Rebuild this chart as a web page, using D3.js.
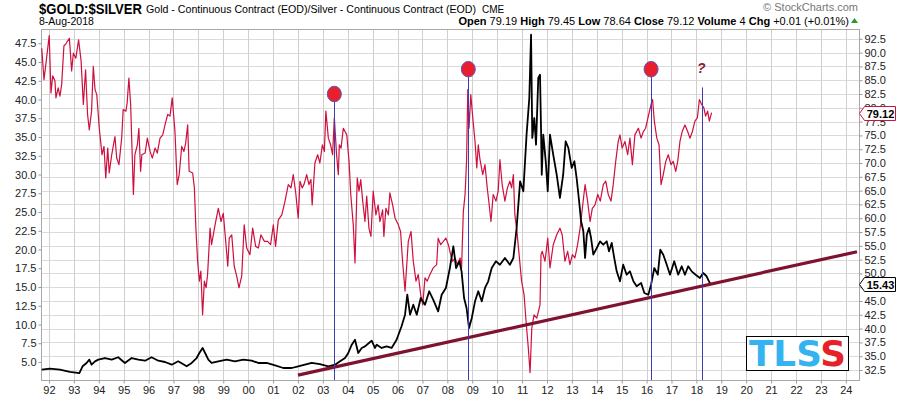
<!DOCTYPE html>
<html>
<head>
<meta charset="utf-8">
<script src="https://cdn.jsdelivr.net/npm/d3@7"></script>
<style>
body { margin: 0; background: #fff; }
text { font-family: Arial, "Liberation Sans", sans-serif; }
</style>
</head>
<body>
<svg id="chart" width="900" height="399"></svg>
<script>
// gold:silver ratio (red, right axis) as [decimal year, value]
var ratioData = [
  [1991.71,90.8],[1991.80,85.1],[1991.88,88.1],[1992.01,93.1],[1992.08,82.7],[1992.15,85.8],[1992.24,84.9],
  [1992.28,81.8],[1992.37,83.6],[1992.44,82.1],[1992.51,84.2],[1992.60,91.2],[1992.68,91.6],[1992.82,92.6],
  [1992.91,86.7],[1992.98,89.9],[1993.08,89.0],[1993.19,92.3],[1993.29,88.5],[1993.38,80.6],[1993.47,86.9],
  [1993.55,78.8],[1993.62,76.0],[1993.71,79.4],[1993.78,87.5],[1993.85,83.3],[1993.92,82.4],[1994.02,76.3],
  [1994.13,71.5],[1994.21,73.0],[1994.28,67.3],[1994.36,72.7],[1994.42,68.2],[1994.52,71.5],[1994.65,74.8],
  [1994.72,70.9],[1994.81,69.7],[1994.92,74.5],[1994.98,79.7],[1995.09,79.4],[1995.14,80.9],[1995.21,85.4],
  [1995.28,80.6],[1995.33,73.3],[1995.39,64.3],[1995.45,71.5],[1995.55,73.3],[1995.61,76.3],[1995.68,68.5],
  [1995.73,71.5],[1995.86,71.8],[1995.95,74.5],[1996.06,72.1],[1996.15,70.9],[1996.26,72.7],[1996.35,71.8],
  [1996.46,74.5],[1996.57,75.1],[1996.66,76.9],[1996.77,78.8],[1996.86,78.5],[1996.95,81.8],[1997.06,75.7],
  [1997.15,66.1],[1997.23,67.9],[1997.33,73.0],[1997.42,72.1],[1997.49,73.6],[1997.57,76.9],[1997.63,68.5],
  [1997.77,68.2],[1997.84,65.5],[1997.90,58.2],[1997.97,52.2],[1998.04,48.6],[1998.10,50.4],[1998.17,42.5],
  [1998.24,48.6],[1998.31,47.4],[1998.37,49.8],[1998.47,58.2],[1998.53,55.2],[1998.67,58.8],[1998.80,61.8],
  [1998.91,59.4],[1999.00,60.9],[1999.11,55.2],[1999.18,51.3],[1999.24,56.4],[1999.34,57.0],[1999.44,51.3],
  [1999.54,49.5],[1999.63,47.4],[1999.74,49.5],[1999.84,58.8],[1999.94,54.6],[2000.07,53.4],[2000.18,58.2],
  [2000.30,54.9],[2000.41,54.6],[2000.51,57.0],[2000.65,55.8],[2000.78,55.8],[2000.90,55.2],[2001.01,58.8],
  [2001.10,54.9],[2001.21,59.7],[2001.35,60.6],[2001.48,63.1],[2001.61,66.1],[2001.72,65.5],[2001.81,67.9],
  [2001.91,64.6],[2002.01,60.0],[2002.08,66.7],[2002.17,65.5],[2002.24,66.1],[2002.35,67.9],[2002.44,66.1],
  [2002.52,67.0],[2002.57,62.4],[2002.68,70.0],[2002.79,71.5],[2002.88,70.0],[2002.98,73.3],[2003.06,72.1],
  [2003.12,79.4],[2003.22,74.5],[2003.31,73.3],[2003.39,71.5],[2003.46,78.2],[2003.55,71.5],[2003.62,67.9],
  [2003.66,73.3],[2003.73,72.7],[2003.82,76.3],[2003.96,75.1],[2004.05,70.3],[2004.12,64.3],[2004.22,58.8],
  [2004.29,51.9],[2004.38,67.3],[2004.45,64.9],[2004.52,67.0],[2004.60,63.1],[2004.69,59.4],[2004.76,64.0],
  [2004.85,58.2],[2004.93,56.7],[2005.02,64.9],[2005.13,60.6],[2005.22,62.4],[2005.29,59.4],[2005.40,61.5],
  [2005.45,56.7],[2005.53,61.8],[2005.63,60.6],[2005.69,64.6],[2005.80,62.4],[2005.90,60.0],[2006.03,58.8],
  [2006.12,57.6],[2006.20,52.2],[2006.30,46.8],[2006.43,55.8],[2006.54,57.6],[2006.63,52.2],[2006.74,48.6],
  [2006.83,49.8],[2006.93,46.1],[2007.01,44.3],[2007.10,49.2],[2007.19,48.6],[2007.30,49.8],[2007.43,51.0],
  [2007.57,51.6],[2007.63,56.4],[2007.73,55.2],[2007.84,55.8],[2007.94,56.4],[2008.04,55.2],[2008.13,53.4],
  [2008.21,52.2],[2008.31,52.8],[2008.40,51.6],[2008.51,52.8],[2008.57,51.0],[2008.64,61.2],[2008.71,64.3],
  [2008.77,70.3],[2008.82,83.3],[2008.87,76.3],[2008.94,82.4],[2009.02,78.2],[2009.11,73.9],[2009.18,69.1],
  [2009.24,73.3],[2009.31,70.6],[2009.42,67.9],[2009.51,69.7],[2009.60,65.5],[2009.68,62.4],[2009.75,59.4],
  [2009.84,64.3],[2009.95,63.1],[2010.04,64.9],[2010.11,70.6],[2010.20,66.1],[2010.31,63.1],[2010.41,65.5],
  [2010.51,66.7],[2010.58,65.5],[2010.65,67.9],[2010.71,60.6],[2010.78,58.2],[2010.88,53.4],[2010.98,48.6],
  [2011.08,46.1],[2011.16,41.3],[2011.25,36.5],[2011.32,32.0],[2011.39,40.1],[2011.48,42.5],[2011.59,41.9],
  [2011.72,44.3],[2011.76,53.4],[2011.81,54.0],[2011.92,52.2],[2012.03,56.4],[2012.12,51.0],[2012.25,55.2],
  [2012.39,57.0],[2012.52,58.2],[2012.61,57.0],[2012.72,52.2],[2012.83,54.0],[2012.92,51.6],[2013.02,53.4],
  [2013.12,52.8],[2013.23,55.2],[2013.33,58.2],[2013.42,61.8],[2013.53,66.1],[2013.63,63.1],[2013.73,59.4],
  [2013.82,61.8],[2013.93,62.4],[2014.04,64.3],[2014.14,63.1],[2014.26,66.1],[2014.36,66.7],[2014.46,64.3],
  [2014.57,63.1],[2014.66,66.1],[2014.76,70.3],[2014.86,73.9],[2014.93,75.1],[2015.02,72.7],[2015.13,73.9],
  [2015.24,71.5],[2015.33,74.5],[2015.43,69.7],[2015.53,75.1],[2015.67,76.3],[2015.78,74.5],[2015.87,75.7],
  [2015.96,76.3],[2016.07,78.5],[2016.18,80.6],[2016.24,81.5],[2016.31,77.6],[2016.41,74.5],[2016.50,73.3],
  [2016.58,66.1],[2016.67,67.9],[2016.77,70.3],[2016.87,71.5],[2016.98,69.7],[2017.07,70.3],[2017.17,68.5],
  [2017.25,70.3],[2017.34,73.9],[2017.43,75.7],[2017.54,76.9],[2017.65,75.7],[2017.74,74.5],[2017.84,75.7],
  [2017.94,77.6],[2018.04,78.2],[2018.12,81.5],[2018.21,80.6],[2018.30,80.0],[2018.37,78.5],[2018.45,79.4],
  [2018.52,77.6],[2018.61,79.12]
];

// overlay (black, left axis)
var overlayData = [
  [1991.71,3.97],[1992.04,4.11],[1992.44,3.97],[1992.84,3.67],[1993.22,3.53],[1993.35,4.43],[1993.51,4.87],
  [1993.62,5.31],[1993.71,4.64],[1993.85,5.09],[1993.98,5.31],[1994.25,5.53],[1994.52,5.31],[1994.78,5.63],
  [1995.05,4.87],[1995.32,5.53],[1995.59,5.31],[1995.86,5.17],[1996.12,5.63],[1996.39,5.17],[1996.66,5.0],
  [1996.93,4.64],[1997.19,5.09],[1997.53,4.43],[1997.73,4.87],[1997.93,5.53],[1998.04,6.2],[1998.17,6.87],
  [1998.27,6.2],[1998.40,5.31],[1998.53,4.87],[1998.80,5.09],[1999.14,5.31],[1999.47,5.09],[1999.80,5.31],
  [2000.14,5.17],[2000.41,4.87],[2000.74,4.87],[2001.08,4.56],[2001.41,4.2],[2001.75,4.2],[2002.01,4.43],
  [2002.28,4.64],[2002.55,4.87],[2002.88,4.73],[2003.22,4.43],[2003.49,4.64],[2003.69,5.09],[2003.89,5.53],
  [2004.02,6.2],[2004.16,7.31],[2004.29,7.97],[2004.42,6.2],[2004.56,6.87],[2004.69,7.09],[2004.85,7.53],
  [2004.96,7.84],[2005.09,6.87],[2005.16,7.31],[2005.36,6.87],[2005.56,7.09],[2005.76,6.87],[2005.96,7.97],
  [2006.16,9.76],[2006.30,11.31],[2006.39,13.97],[2006.50,11.31],[2006.63,12.64],[2006.77,11.31],[2006.93,13.53],
  [2007.10,12.64],[2007.27,14.43],[2007.43,13.31],[2007.63,11.76],[2007.77,13.97],[2007.94,14.87],[2008.10,17.53],
  [2008.24,20.43],[2008.35,17.53],[2008.48,18.43],[2008.57,17.09],[2008.67,13.53],[2008.77,12.2],[2008.87,9.53],
  [2008.98,10.87],[2009.11,13.09],[2009.24,14.43],[2009.38,13.09],[2009.51,14.87],[2009.64,15.76],[2009.78,17.53],
  [2009.95,18.43],[2010.11,17.97],[2010.31,18.87],[2010.51,17.97],[2010.65,18.87],[2010.78,22.87],[2010.92,29.09],
  [2011.05,27.76],[2011.18,35.31],[2011.29,40.2],[2011.36,48.64],[2011.41,34.87],[2011.49,37.53],[2011.56,33.97],
  [2011.65,42.87],[2011.72,43.31],[2011.76,36.2],[2011.79,29.97],[2011.85,35.31],[2011.95,31.76],[2012.03,27.76],
  [2012.12,35.31],[2012.25,32.64],[2012.39,29.97],[2012.52,26.87],[2012.65,29.97],[2012.75,34.43],[2012.86,33.53],
  [2012.99,30.87],[2013.10,31.76],[2013.19,29.53],[2013.29,26.43],[2013.37,23.76],[2013.46,22.43],[2013.53,18.87],
  [2013.60,21.97],[2013.69,22.87],[2013.77,21.53],[2013.86,19.31],[2014.00,20.2],[2014.13,21.09],[2014.26,20.64],
  [2014.40,21.09],[2014.49,19.76],[2014.60,20.87],[2014.70,18.87],[2014.80,17.09],[2014.93,15.76],[2015.06,17.97],
  [2015.20,16.64],[2015.33,17.09],[2015.47,15.76],[2015.60,15.09],[2015.78,15.53],[2015.91,14.2],[2016.07,13.97],
  [2016.18,15.31],[2016.31,17.53],[2016.45,16.64],[2016.55,19.97],[2016.67,19.31],[2016.81,17.97],[2016.94,16.64],
  [2017.11,18.43],[2017.27,16.64],[2017.41,17.76],[2017.54,16.64],[2017.67,17.76],[2017.81,17.09],[2017.97,16.64],
  [2018.14,16.2],[2018.27,16.87],[2018.41,16.43],[2018.54,15.53],[2018.61,15.43]
];

var trendLine = [[2002.0, 3.25], [2024.45, 19.7]];          // left axis units
var markerYears = [2003.46, 2008.84, 2016.18, 2018.22];
var markerTops = [82.5, 87.0, 87.0, 83.7];                  // right axis units
var circleMarks = [[2003.46, 82.5], [2008.84, 87.0], [2016.18, 87.0]];
var questionMark = [2018.2, 87.2];

var yearTicks = d3.range(1992, 2025);
var leftTicks = d3.range(5, 47.6, 2.5);
var rightTicks = d3.range(32.5, 92.6, 2.5);
var lastRatio = 79.12, lastOverlay = 15.43;

function drawChart() {
    var svg = d3.select("#chart");
    var pLeft = 41, pRight = 859, pTop = 29, pBottom = 380;

    var x = d3.scaleLinear().domain([1991.68, 2024.53]).range([pLeft, pRight]);
    var yL = d3.scaleLinear().domain([2.6, 49.4]).range([pBottom, pTop]);
    var yR = d3.scaleLinear().domain([30.69, 94.28]).range([pBottom, pTop]);

    // grid
    svg.append("g").selectAll("line")
        .data(rightTicks).enter().append("line")
        .attr("x1", pLeft).attr("x2", pRight)
        .attr("y1", function(d) { return Math.round(yR(d)) + 0.5; })
        .attr("y2", function(d) { return Math.round(yR(d)) + 0.5; })
        .attr("stroke", "#dadada");
    svg.append("g").selectAll("line")
        .data(yearTicks).enter().append("line")
        .attr("y1", pTop).attr("y2", pBottom)
        .attr("x1", function(d) { return Math.round(x(d)) + 0.5; })
        .attr("x2", function(d) { return Math.round(x(d)) + 0.5; })
        .attr("stroke", "#cfcfcf");

    svg.append("rect")
        .attr("x", pLeft + 0.5).attr("y", pTop + 0.5)
        .attr("width", pRight - pLeft).attr("height", pBottom - pTop)
        .attr("fill", "none").attr("stroke", "#a8a8a8");

    // axes
    var fmt = d3.format(".1f");
    var gL = svg.append("g").attr("transform", "translate(" + (pLeft + 0.5) + ",0)")
        .call(d3.axisLeft(yL).tickValues(leftTicks).tickFormat(fmt).tickSize(3).tickPadding(2));
    var gR = svg.append("g").attr("transform", "translate(" + (pRight + 0.5) + ",0)")
        .call(d3.axisRight(yR).tickValues(rightTicks).tickFormat(fmt).tickSize(3).tickPadding(2));
    var gB = svg.append("g").attr("transform", "translate(0," + (pBottom + 0.5) + ")")
        .call(d3.axisBottom(x).tickValues(yearTicks)
            .tickFormat(function(d) { return d3.format("02d")(d % 100); })
            .tickSize(3).tickPadding(3));
    [gL, gR, gB].forEach(function(g) {
        g.select(".domain").remove();
        g.selectAll("line").attr("stroke", "#999");
        g.selectAll("text").attr("fill", "#222").style("font-size", "11px")
            .style("font-family", "Arial, 'Liberation Sans', sans-serif");
    });

    // lines
    var lineL = d3.line().x(function(d) { return x(d[0]); }).y(function(d) { return yL(d[1]); });
    var lineR = d3.line().x(function(d) { return x(d[0]); }).y(function(d) { return yR(d[1]); });

    svg.append("path").datum(ratioData)
        .attr("d", lineR).attr("fill", "none")
        .attr("stroke", "#cf0f3e").attr("stroke-width", 1.2).attr("stroke-linejoin", "round");

    svg.append("path").datum(overlayData)
        .attr("d", lineL).attr("fill", "none")
        .attr("stroke", "#000").attr("stroke-width", 1.8).attr("stroke-linejoin", "round");

    svg.append("path").datum(trendLine)
        .attr("d", lineL).attr("fill", "none")
        .attr("stroke", "#7e1230").attr("stroke-width", 3.2);

    // marker lines, circles, question mark
    svg.append("g").selectAll("line")
        .data(markerYears).enter().append("line")
        .attr("x1", function(d) { return Math.round(x(d)) + 0.5; })
        .attr("x2", function(d) { return Math.round(x(d)) + 0.5; })
        .attr("y1", function(d, i) { return yR(markerTops[i]); })
        .attr("y2", pBottom)
        .attr("stroke", "#3b3fae").attr("stroke-width", 1);

    svg.append("g").selectAll("ellipse")
        .data(circleMarks).enter().append("ellipse")
        .attr("cx", function(d) { return x(d[0]); })
        .attr("cy", function(d) { return yR(d[1]); })
        .attr("rx", 7).attr("ry", 7.8)
        .attr("fill", "#ea1f2d").attr("stroke", "#5a5ab8").attr("stroke-width", 1);

    svg.append("text")
        .attr("x", x(questionMark[0])).attr("y", yR(questionMark[1]) + 5)
        .attr("text-anchor", "middle")
        .attr("fill", "#8a1a3c").style("font-size", "14px").style("font-style", "italic").style("font-weight", "bold")
        .text("?");

    // value tags on right axis
    function tag(value, scale, color) {
        var yy = Math.round(scale(value)) + 0.5, x0 = pRight + 0.5;
        var g = svg.append("g");
        g.append("path")
            .attr("d", "M" + x0 + "," + yy + "L" + (x0 + 5) + "," + (yy - 7) + "H" + (x0 + 36) + "V" + (yy + 7) + "H" + (x0 + 5) + "Z")
            .attr("fill", "#fff").attr("stroke", color).attr("stroke-width", 1);
        g.append("text").attr("x", x0 + 21).attr("y", yy + 4)
            .attr("text-anchor", "middle").attr("fill", "#000")
            .style("font-size", "11px").style("font-weight", "bold")
            .text(d3.format(".2f")(value));
    }
    tag(lastRatio, yR, "#cf0f3e");
    tag(lastOverlay, yL, "#000");

    // TLSS box
    var logo = svg.append("g");
    logo.append("rect").attr("x", 746.5).attr("y", 336.5).attr("width", 102).attr("height", 34)
        .attr("fill", "#fff").attr("stroke", "#000");
    var logoText = logo.append("text").attr("x", 749).attr("y", 366)
        .attr("textLength", 97).attr("lengthAdjust", "spacingAndGlyphs")
        .style("font-size", "35px").style("font-weight", "bold")
        .style("font-family", "'DejaVu Sans', Arial, sans-serif");
    logoText.append("tspan").attr("fill", "#34b3f0").text("TLS");
    logoText.append("tspan").attr("fill", "#e52228").text("S");

    // header
    svg.append("text").attr("x", 39).attr("y", 14)
        .attr("textLength", 103).attr("lengthAdjust", "spacingAndGlyphs")
        .style("font-size", "14px").style("font-weight", "bold").attr("fill", "#000")
        .text("$GOLD:$SILVER");
    svg.append("text").attr("x", 146).attr("y", 13)
        .attr("textLength", 330).attr("lengthAdjust", "spacingAndGlyphs")
        .style("font-size", "11px").attr("fill", "#000")
        .text("Gold - Continuous Contract (EOD)/Silver - Continuous Contract (EOD)");
    svg.append("text").attr("x", 482).attr("y", 13)
        .style("font-size", "10px").attr("fill", "#000")
        .text("CME");
    svg.append("text").attr("x", 39).attr("y", 25)
        .style("font-size", "10.5px").attr("fill", "#000")
        .text("8-Aug-2018");
    svg.append("text").attr("x", 858).attr("y", 11).attr("text-anchor", "end")
        .style("font-size", "11px").attr("fill", "#777")
        .text("\u00A9 StockCharts.com");

    var info = [["Open", "79.19"], ["High", "79.45"], ["Low", "78.64"], ["Close", "79.12"], ["Volume", "4"], ["Chg", "+0.01 (+0.01%)"]];
    var infoText = svg.append("text").attr("x", 849).attr("y", 25).attr("text-anchor", "end")
        .style("font-size", "11px").attr("fill", "#000");
    info.forEach(function(d, i) {
        infoText.append("tspan").style("font-weight", "bold").text((i ? " " : "") + d[0]);
        infoText.append("tspan").text(" " + d[1]);
    });
    svg.append("path").attr("d", "M851,23 L858,23 L854.5,18 Z").attr("fill", "#2a9a2a");
}

drawChart();
</script>
</body>
</html>
